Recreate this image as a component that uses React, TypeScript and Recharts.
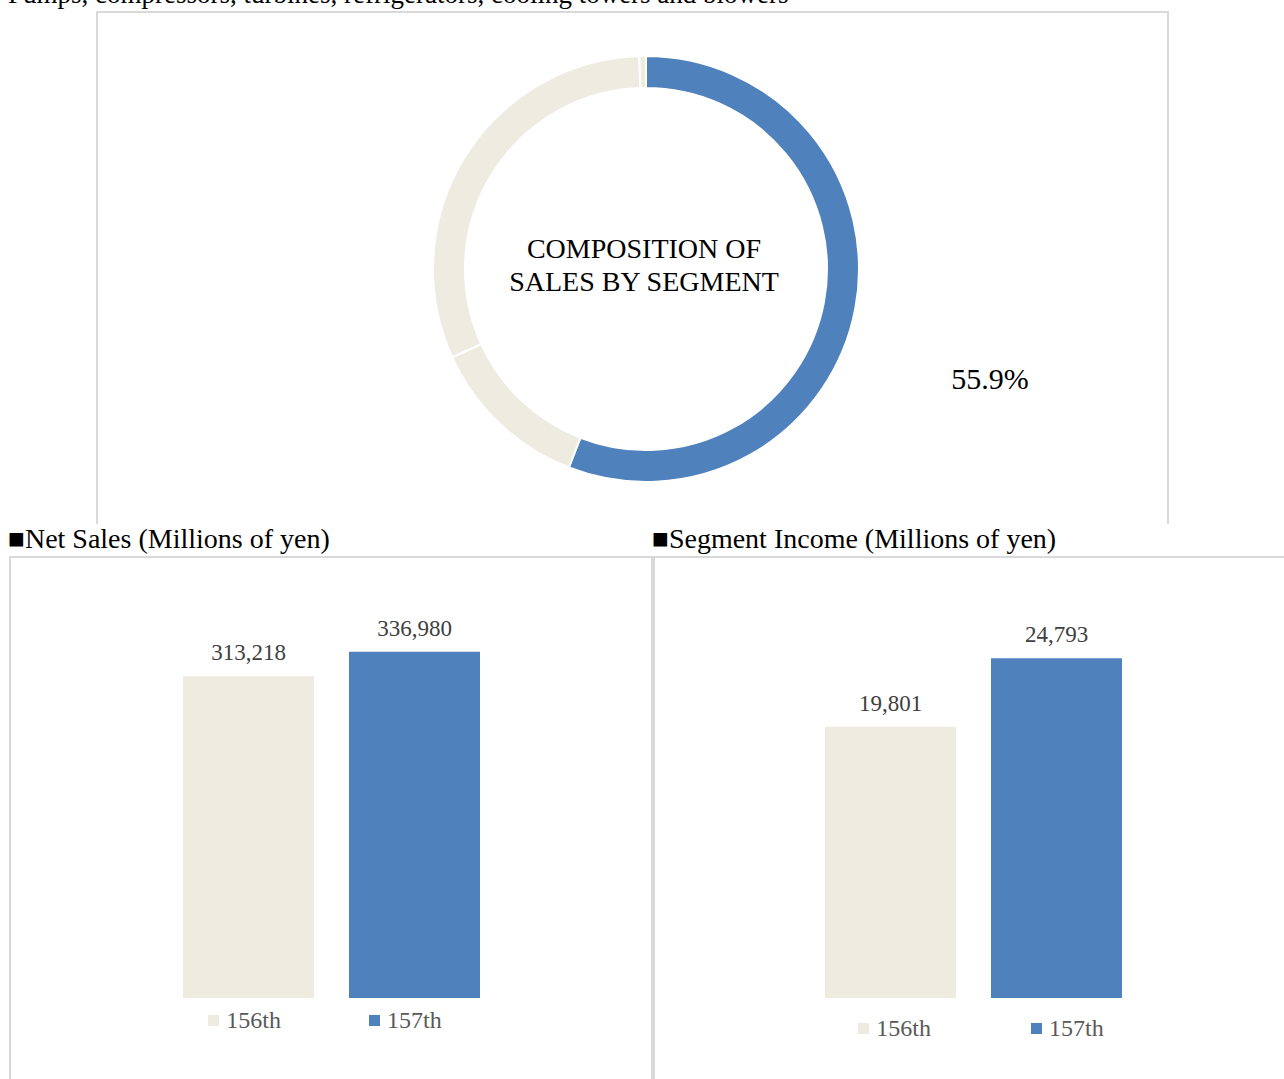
import React from 'react'
import { PieChart, Pie, Cell, BarChart, Bar, XAxis, YAxis, LabelList, Legend } from 'recharts'

const FONT = "'Liberation Serif', 'Times New Roman', serif"
const BLUE = '#4F81BD'
const BEIGE = '#EEECE1'
const LINE = '#D9D9D9'

// composition of sales (share %, clockwise from 12 o'clock)
const segmentNames = ['Fluid Machinery & Systems', 'Environmental Plants', 'Precision Machinery', 'Others']
const segmentShares = [55.9, 12.3, 31.3, 0.5]
const segmentColors = [BLUE, BEIGE, BEIGE, BEIGE]

const periods = ['156th', '157th']
const periodColors = [BEIGE, BLUE]
const netSales = [313218, 336980]
const segmentIncome = [19801, 24793]

const pieData = segmentNames.map((name, i) => ({ name, value: segmentShares[i] }))

const toRow = (values: number[]) => {
  const row: any = { name: 'segment' }
  periods.forEach((p, i) => { row[p] = values[i] })
  return [row]
}

const RAD = Math.PI / 180

const renderShareLabel = (props: any) => {
  if (props.index !== 0) return null
  const { cx, cy, midAngle, outerRadius } = props
  const r = outerRadius + 137
  const x = cx + r * Math.cos(-midAngle * RAD)
  const y = cy + r * Math.sin(-midAngle * RAD) + 45
  return (
    <text x={x} y={y} textAnchor="middle" dominantBaseline="central" fill="#000" fontSize={30} fontFamily={FONT}>
      {segmentShares[0].toFixed(1)}%
    </text>
  )
}

const legendContent = (gap: number, height: number, shift: number) => (props: any) => (
  <div style={{ display: 'flex', justifyContent: 'center', alignItems: 'center', gap, height, fontFamily: FONT, marginLeft: shift }}>
    {(props.payload || []).map((item: any) => (
      <div key={item.value} style={{ display: 'flex', alignItems: 'center' }}>
        <span style={{ width: 11, height: 11, background: item.color, marginRight: 7, display: 'inline-block' }} />
        <span style={{ color: '#595959', fontSize: 24 }}>{item.value}</span>
      </div>
    ))}
  </div>
)

function PeriodBars({ values, max, legendGap, legendHeight, legendShift, width, marginLeft }: {
  values: number[]; max: number; legendGap: number; legendHeight: number; legendShift: number; width: number; marginLeft: number
}) {
  return (
    <BarChart
      width={width}
      height={522}
      data={toRow(values)}
      barGap={35}
      margin={{ top: 30, right: 0, left: marginLeft, bottom: 81 - legendHeight }}
    >
      <XAxis dataKey="name" hide />
      <YAxis hide domain={[0, max]} />
      <Legend verticalAlign="bottom" content={legendContent(legendGap, legendHeight, legendShift)} />
      {periods.map((p, i) => (
        <Bar key={p} dataKey={p} name={p} fill={periodColors[i]} barSize={131} isAnimationActive={false}>
          <LabelList
            dataKey={p}
            position="top"
            offset={16}
            fill="#404040"
            fontSize={23}
            fontFamily={FONT}
            formatter={(v: any) => Number(v).toLocaleString('en-US')}
          />
        </Bar>
      ))}
    </BarChart>
  )
}

const titleStyle: React.CSSProperties = {
  position: 'absolute',
  fontFamily: FONT,
  fontSize: 28,
  lineHeight: '28px',
  color: '#000',
  whiteSpace: 'nowrap',
}

export default function App() {
  return (
    <div style={{ position: 'absolute', left: 0, top: 0, width: 1284, height: 1079, overflow: 'hidden', background: '#fff', fontFamily: FONT }}>
      <div style={{ ...titleStyle, fontSize: 27, lineHeight: '27px', left: 8, top: -19 }}>
        Pumps, compressors, turbines, refrigerators, cooling towers and blowers
      </div>

      {/* donut panel */}
      <div style={{ position: 'absolute', left: 96, top: 11, width: 1069, height: 511, border: `2px solid ${LINE}`, borderBottom: 'none' }} />
      <div style={{ position: 'absolute', left: 97, top: 12 }}>
        <PieChart width={1070} height={510}>
          <Pie
            data={pieData}
            dataKey="value"
            nameKey="name"
            cx={544}
            cy={252}
            innerRadius={181}
            outerRadius={213}
            startAngle={90}
            endAngle={-270}
            stroke="#fff"
            strokeWidth={2}
            label={renderShareLabel}
            labelLine={false}
            isAnimationActive={false}
          >
            {pieData.map((d, i) => (
              <Cell key={d.name} fill={segmentColors[i]} />
            ))}
          </Pie>
        </PieChart>
      </div>
      <div style={{ position: 'absolute', left: 444, top: 232, width: 400, textAlign: 'center', fontSize: 28, lineHeight: '33px', color: '#000' }}>
        COMPOSITION OF<br />SALES BY SEGMENT
      </div>

      {/* bar panels */}
      <div style={{ ...titleStyle, left: 8, top: 525 }}>■Net Sales (Millions of yen)</div>
      <div style={{ ...titleStyle, left: 652, top: 525 }}>■Segment Income (Millions of yen)</div>
      <div style={{ position: 'absolute', left: 9, top: 556, width: 642, height: 600, border: `2px solid ${LINE}` }} />
      <div style={{ position: 'absolute', left: 651, top: 556, width: 700, height: 600, border: `2px solid ${LINE}` }} />

      <div style={{ position: 'absolute', left: 10, top: 557 }}>
        <PeriodBars values={netSales} max={400000} legendGap={88} legendHeight={44} legendShift={-12} width={642} marginLeft={0} />
      </div>
      <div style={{ position: 'absolute', left: 652, top: 557 }}>
        <PeriodBars values={segmentIncome} max={30000} legendGap={100} legendHeight={60} legendShift={16} width={632} marginLeft={10} />
      </div>
    </div>
  )
}
